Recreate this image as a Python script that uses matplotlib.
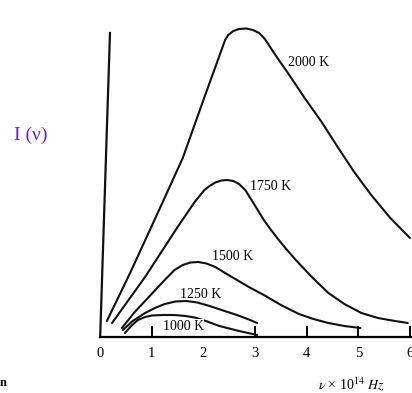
import matplotlib
matplotlib.use('Agg')
import matplotlib.pyplot as plt

plt.rcParams['font.family'] = ['Liberation Serif', 'DejaVu Serif']
plt.rcParams['mathtext.fontset'] = 'stix'

# frequency (x 10^14 Hz) and intensity (arbitrary units)
x_2000 = [0.13, 0.58, 1.23, 1.60, 2.00, 2.42, 2.48, 2.58, 2.69, 2.83, 2.96, 3.08, 3.19,
          3.33, 3.46, 3.65, 3.96, 4.29, 4.60, 4.92, 5.25, 5.62, 6.00]
y_2000 = [1.6, 6.4, 13.7, 17.9, 23.7, 29.7, 30.2, 30.6, 30.8, 30.85, 30.7, 30.4, 29.8,
          28.7, 27.7, 26.3, 23.9, 21.5, 19.0, 16.5, 14.2, 11.9, 9.9]

x_1750 = [0.23, 0.87, 1.50, 1.83, 2.02, 2.12, 2.23, 2.35, 2.46, 2.58, 2.69, 2.81, 2.92,
          3.04, 3.17, 3.31, 3.46, 3.62, 3.79, 4.10, 4.42, 4.73, 5.06, 5.38, 5.71, 5.96]
y_1750 = [1.4, 6.0, 11.0, 13.5, 14.7, 15.1, 15.45, 15.65, 15.7, 15.6, 15.3, 14.7, 13.8,
          12.8, 11.7, 10.7, 9.7, 8.7, 7.7, 6.0, 4.4, 3.3, 2.4, 1.9, 1.6, 1.4]

x_1500 = [0.42, 0.67, 0.96, 1.25, 1.44, 1.60, 1.75, 1.90, 2.06, 2.23, 2.42, 2.65, 2.88,
          3.17, 3.50, 3.85, 4.13, 4.42, 4.73, 5.04]
y_1500 = [0.9, 2.5, 4.1, 5.7, 6.7, 7.2, 7.45, 7.5, 7.35, 7.0, 6.4, 5.7, 5.0,
          4.2, 3.2, 2.3, 1.8, 1.4, 1.1, 0.9]

x_1250 = [0.44, 0.63, 0.87, 1.06, 1.25, 1.46, 1.67, 1.88, 2.12, 2.38, 2.65, 2.88, 3.04]
y_1250 = [0.7, 1.6, 2.4, 2.9, 3.3, 3.55, 3.6, 3.45, 3.1, 2.65, 2.2, 1.75, 1.4]

x_1000 = [0.48, 0.60, 0.73, 0.87, 1.00, 1.21, 1.44, 1.65, 1.83, 2.02, 2.15, 2.31, 2.50,
          2.69, 3.04]
y_1000 = [0.4, 1.1, 1.7, 2.0, 2.15, 2.2, 2.2, 2.1, 1.95, 1.65, 1.4, 1.1, 0.85,
          0.6, 0.2]

labels = ['2000 K', '1750 K', '1500 K', '1250 K', '1000 K']
label_x = [3.63, 2.90, 2.17, 1.54, 1.21]
label_y = [27.5, 15.0, 8.0, 4.3, 1.1]

xticks = [0, 1, 2, 3, 4, 5, 6]
tick_marks = [1, 3, 4, 5, 6]

fig = plt.figure(figsize=(4.12, 3.93), dpi=100)
ax = fig.add_axes([0, 0, 1, 1])
ax.set_xlim(-1.94, 6.04)
ax.set_ylim(-5.6, 33.7)

for xs, ys in [(x_2000, y_2000), (x_1750, y_1750), (x_1500, y_1500),
               (x_1250, y_1250), (x_1000, y_1000)]:
    ax.plot(xs, ys, color='#111111', lw=1.5, solid_capstyle='round',
            solid_joinstyle='round', zorder=2)

for t, lx, ly in zip(labels, label_x, label_y):
    bb = dict(facecolor='white', edgecolor='none', pad=0.5) if t == '1000 K' else None
    ax.text(lx, ly, t, fontsize=10, va='center', ha='left', bbox=bb, zorder=3)

# axes
ax.plot([0, 0.19], [0, 30.4], color='#111111', lw=1.6)
for s in ['top', 'right', 'left']:
    ax.spines[s].set_visible(False)
ax.spines['bottom'].set_position(('data', 0))
ax.spines['bottom'].set_bounds(0, 6.04)
ax.spines['bottom'].set_linewidth(1.6)
ax.set_yticks([])
ax.xaxis.remove_overlapping_locs = False
ax.set_xticks(xticks)
ax.set_xticklabels([str(t) for t in xticks], fontsize=10.5)
ax.tick_params(axis='x', which='major', length=0, pad=7)
ax.set_xticks(tick_marks, minor=True)
ax.tick_params(axis='x', which='minor', direction='in', length=8, width=1.4)

fig.text(14 / 412, 1 - 135 / 393, 'I (ν)', color='#7420c8', fontsize=14,
         va='center', ha='left')
fig.text(318 / 412, 1 - 384 / 393, r'$\nu$ × 10$^{14}$ $Hz$', fontsize=10,
         va='center', ha='left')
fig.text(0.0, 1 - 383 / 393, 'n', fontsize=9, fontweight='bold',
         va='center', ha='left')

fig.savefig('out.png', dpi=100)
